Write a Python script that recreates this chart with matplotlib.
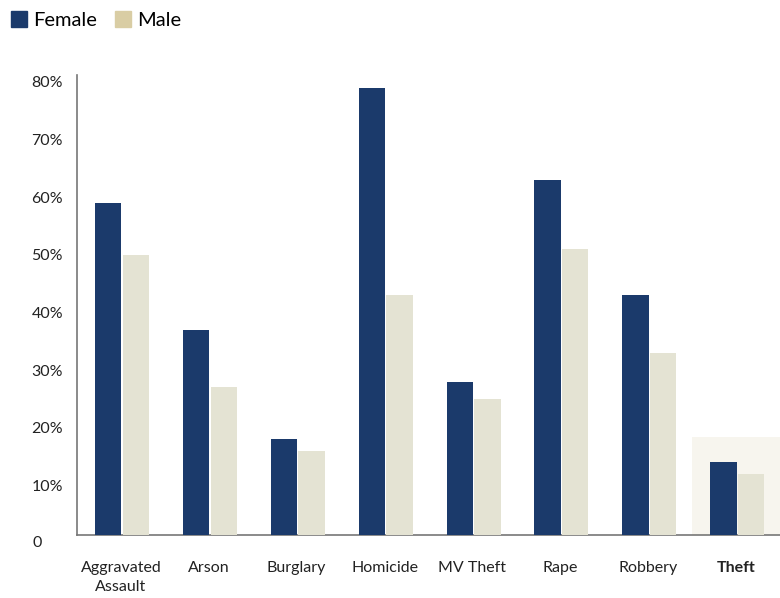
import numpy as np
import matplotlib
matplotlib.use("Agg")
import matplotlib.pyplot as plt
from matplotlib.patches import Patch, Rectangle
import matplotlib.transforms as mtransforms

plt.rcParams['font.family'] = ['Lato', 'DejaVu Sans']

categories = ["Aggravated\nAssault", "Arson", "Burglary", "Homicide",
              "MV Theft", "Rape", "Robbery", "Theft"]
female = [59, 37, 18, 79, 28, 63, 43, 14]
male = [50, 27, 16, 43, 25, 51, 33, 12]
yticks = [10, 20, 30, 40, 50, 60, 70, 80]

c_female = "#1b3a6b"
c_male = "#e4e3d3"
c_male_legend = "#d9cda4"

fig = plt.figure(figsize=(7.8, 5.98), dpi=100)
ax = fig.add_axes([0.0987, 0.1054, 0.9013, 0.7692])

x = np.arange(len(categories))
w = 0.3
ax.bar(x - 0.145, female, width=w, color=c_female, zorder=3)
ax.bar(x + 0.17, male, width=w, color=c_male, zorder=3)

# highlight for the last category
ax.add_patch(Rectangle((6.5, 0), 1.0, 18.4, color="#f7f5ee", zorder=1, lw=0))

ax.set_xlim(-0.5, 7.5)
ax.set_ylim(1.4, 81.2)
ax.set_yticks(yticks)
ax.set_yticklabels([f"{v}%" for v in yticks])
ax.text(-0.05, 0, "0", transform=mtransforms.blended_transform_factory(ax.transAxes, ax.transData),
        ha="right", va="center", fontsize=11.5, color="#222222", clip_on=False)
ax.set_xticks(x)
ax.set_xticklabels(categories)
ax.tick_params(length=0, labelsize=11.5, colors="#222222")
ax.tick_params(axis="x", pad=19)
ax.tick_params(axis="y", pad=10)
for lbl in ax.get_xticklabels():
    lbl.set_linespacing(1.4)
ax.get_xticklabels()[-1].set_fontweight("bold")

for s in ["top", "right"]:
    ax.spines[s].set_visible(False)
for s in ["left", "bottom"]:
    ax.spines[s].set_color("#777777")
    ax.spines[s].set_linewidth(1.2)

handles = [Patch(color=c_female, label="Female"), Patch(color=c_male_legend, label="Male")]
fig.legend(handles=handles, loc="upper left", bbox_to_anchor=(-0.004, 1.005), ncol=2,
           frameon=False, fontsize=14.5, handlelength=0.8, handleheight=0.8,
           handletextpad=0.3, columnspacing=0.9, borderaxespad=0.3)

fig.savefig("out.png", dpi=100)
